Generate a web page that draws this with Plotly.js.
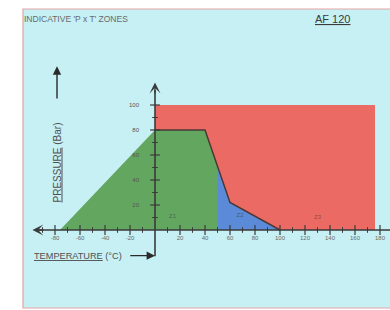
<!DOCTYPE html>
<html>
<head>
<meta charset="utf-8">
<script src="https://cdn.plot.ly/plotly-3.0.1.min.js"></script>
<style>html,body{margin:0;padding:0;background:#fff;}#chart{width:390px;height:310px;}</style>
</head>
<body>
<div id="chart"></div>
<script>
// Zone polygons (temperature °C, pressure bar)
var redT = [0, 176, 176, 0];
var redP = [0, 0, 100, 100];
var greenT = [-76, 0, 40, 50, 50];
var greenP = [0, 80, 80, 51, 0];
var blueT = [50, 60, 100, 50];
var blueP = [51, 22, 0, 0];
var boundaryT = [0, 40, 60, 100];
var boundaryP = [80, 80, 22, 0];
// Tick labels / marks
var xTicks = [-80, -60, -40, -20, 20, 40, 60, 80, 100, 120, 140, 160, 180];
var xMinor = [-90, -70, -50, -30, -10, 10, 30, 50, 70, 90, 110, 130, 150, 170];
var yTicks = [20, 40, 60, 80, 100];
var yMinor = [10, 30, 50, 70, 90];
// Zone labels
var zoneNames = ["Z1", "Z2", "Z3"];
var zoneT = [14, 68, 130];
var zoneP = [11, 12, 10];

var FONT = "Liberation Sans, Arial, sans-serif";
var AX = "#3a3a3a";

var traces = [
  {x: redT, y: redP, type: "scatter", mode: "lines", fill: "toself", fillcolor: "#ec6a64", line: {width: 0, color: "#ec6a64"}, hoverinfo: "skip"},
  {x: greenT, y: greenP, type: "scatter", mode: "lines", fill: "toself", fillcolor: "#63a660", line: {width: 0, color: "#63a660"}, hoverinfo: "skip"},
  {x: blueT, y: blueP, type: "scatter", mode: "lines", fill: "toself", fillcolor: "#5b8bd8", line: {width: 0, color: "#5b8bd8"}, hoverinfo: "skip"},
  {x: boundaryT, y: boundaryP, type: "scatter", mode: "lines", line: {width: 1.5, color: "#4a3a36"}, hoverinfo: "skip"},
  {x: xTicks, y: xTicks.map(function(){return 0;}), type: "scatter", mode: "markers", marker: {symbol: "line-ns", size: 7, line: {width: 1.2, color: AX}}, hoverinfo: "skip"},
  {x: xMinor, y: xMinor.map(function(){return 0;}), type: "scatter", mode: "markers", marker: {symbol: "line-ns", size: 4, line: {width: 1, color: AX}}, hoverinfo: "skip"},
  {x: yTicks.map(function(){return 0;}), y: yTicks, type: "scatter", mode: "markers", marker: {symbol: "line-ew", size: 7, line: {width: 1.2, color: AX}}, hoverinfo: "skip"},
  {x: yMinor.map(function(){return 0;}), y: yMinor, type: "scatter", mode: "markers", marker: {symbol: "line-ew", size: 4, line: {width: 1, color: AX}}, hoverinfo: "skip"},
  {x: zoneT, y: zoneP, text: zoneNames, type: "scatter", mode: "text", textfont: {family: FONT, size: 6, color: "rgba(50,50,50,0.55)"}, hoverinfo: "skip"}
];

var layout = {
  width: 390, height: 310,
  margin: {l: 0, r: 0, t: 0, b: 0, pad: 0},
  paper_bgcolor: "#ffffff",
  plot_bgcolor: "rgba(0,0,0,0)",
  showlegend: false,
  font: {family: FONT},
  title: {text: "INDICATIVE 'P x T' ZONES", x: 24/390, xanchor: "left", y: 1 - 19/310, yanchor: "middle", font: {family: FONT, size: 8.5, color: "#6a6a6a"}},
  xaxis: {
    range: [-124, 188], anchor: "free", position: 80/310,
    showgrid: false, zeroline: false, showline: false,
    tickmode: "array", tickvals: xTicks, ticktext: xTicks.map(String), ticks: "",
    ticklabelstandoff: 3,
    tickfont: {family: FONT, size: 6, color: "#6a6a6a"}, fixedrange: true
  },
  yaxis: {
    range: [-64, 184], anchor: "free", position: 155/390,
    showgrid: false, zeroline: false, showline: false,
    tickmode: "array", tickvals: yTicks, ticktext: yTicks.map(String), ticks: "",
    ticklabelstandoff: 16,
    tickfont: {family: FONT, size: 6, color: "#555555"}, fixedrange: true
  },
  shapes: [
    {type: "rect", xref: "paper", yref: "paper", x0: 23/390, x1: 1.01, y0: 2/310, y1: 1 - 9/310, fillcolor: "#c6f0f4", line: {color: "#e3a3a3", width: 1.2}, layer: "below"},
    {type: "line", xref: "x", yref: "y", x0: -94, x1: 190, y0: 0, y1: 0, line: {color: AX, width: 1.6}},
    {type: "line", xref: "x", yref: "y", x0: 0, x1: 0, y0: -21, y1: 112, line: {color: AX, width: 1.6}}
  ],
  annotations: [
    {text: "<u>AF 120</u>", xref: "paper", yref: "paper", x: 332/390, y: 1 - 19/310, xanchor: "center", yanchor: "middle", showarrow: false, font: {family: FONT, size: 11, color: "#3c3c3c"}},
    {text: "<u>PRESSURE</u> (Bar)", xref: "x", yref: "y", x: -78.4, y: 54, textangle: -90, showarrow: false, font: {family: FONT, size: 10, color: "#505050"}},
    {text: "<u>TEMPERATURE</u> (°C)", xref: "x", yref: "y", x: -98.5, y: -20.5, xanchor: "left", yanchor: "middle", showarrow: false, font: {family: FONT, size: 9.2, color: "#505050"}},
    // pressure arrow
    {x: -78.4, y: 131, ax: -78.4, ay: 104, xref: "x", yref: "y", axref: "x", ayref: "y", text: "", showarrow: true, arrowhead: 2, arrowsize: 1.2, arrowwidth: 1.4, arrowcolor: "#2a2a2a"},
    // y axis arrow
    {x: 0, y: 118, ax: 0, ay: 108, xref: "x", yref: "y", axref: "x", ayref: "y", text: "", showarrow: true, arrowhead: 3, arrowsize: 1.3, arrowwidth: 1.4, arrowcolor: AX},
    // x axis left arrow
    {x: -98, y: 0, ax: -88, ay: 0, xref: "x", yref: "y", axref: "x", ayref: "y", text: "", showarrow: true, arrowhead: 3, arrowsize: 1.3, arrowwidth: 1.4, arrowcolor: AX},
    // temperature leader
    {x: 0, y: -20.5, ax: -21, ay: -20.5, xref: "x", yref: "y", axref: "x", ayref: "y", text: "", showarrow: true, arrowhead: 2, arrowsize: 1.2, arrowwidth: 1.4, arrowcolor: "#2a2a2a"}
  ]
};

Plotly.newPlot("chart", traces, layout, {staticPlot: true, displayModeBar: false});
</script>
</body>
</html>
